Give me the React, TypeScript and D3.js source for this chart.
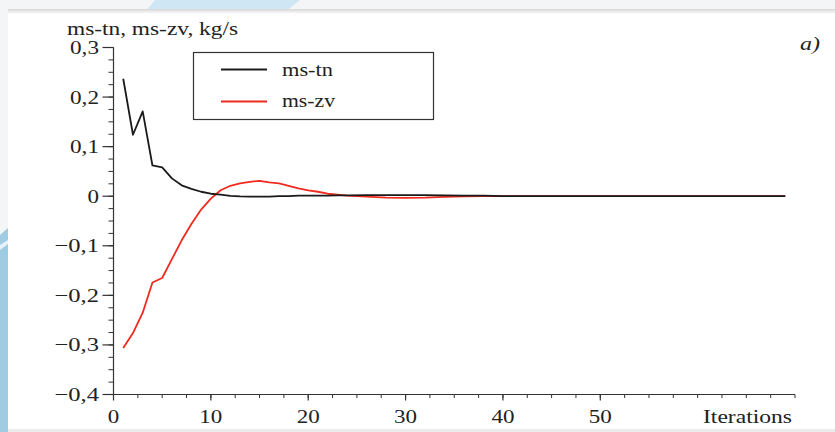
import React from "react";
import * as d3 from "d3";

const itersTn = [1,2,3,4,5,6,7,8,9,10,11,12,13,14,15,16,17,18,19,20,21,22,23,24,26,28,30,32,34,36,38,40,45,50,55,60,65,69];
const msTn = [0.237,0.124,0.171,0.062,0.058,0.036,0.022,0.015,0.009,0.005,0.003,0.0005,-0.0005,-0.001,-0.001,-0.001,0,0,0.001,0.001,0.001,0.001,0.0015,0.0015,0.002,0.002,0.002,0.002,0.0015,0.001,0.001,0,0,0,0,0,0,0];

const itersZv = [1,2,3,4,5,6,7,8,9,10,11,12,13,14,15,16,17,18,19,20,21,22,23,24,26,28,30,32,34,36,38,40,45,50,55,60,65,69];
const msZv = [-0.306,-0.276,-0.235,-0.174,-0.165,-0.127,-0.089,-0.056,-0.027,-0.005,0.012,0.021,0.026,0.029,0.031,0.028,0.026,0.021,0.016,0.012,0.009,0.005,0.003,0.001,-0.001,-0.003,-0.0035,-0.003,-0.0015,-0.0005,0,0,0,0,0,0,0,0];

const xTicks = [0, 10, 20, 30, 40, 50];
const yTicks = [0.3, 0.2, 0.1, 0, -0.1, -0.2, -0.3, -0.4];
const seriesNames = ["ms-tn", "ms-zv"];
const yTitle = "ms-tn, ms-zv, kg/s";
const xTitle = "Iterations";
const panelLabel = "a)";

const W = 835, H = 432;
const x = d3.scaleLinear().domain([0, 70]).range([113.5, 795]);
const y = d3.scaleLinear().domain([-0.4, 0.3]).range([394.5, 47.5]);

const fmt = (v: number) => {
  if (Math.abs(v) < 1e-9) return "0";
  const s = Math.abs(v).toFixed(1).replace(".", ",");
  return (v < 0 ? "\u2212" : "") + s;
};
// rendered width of a numeric label, matching the reference's wide serif glyphs
const numWidth = (s: string) =>
  Array.from(s).reduce((acc, c) => acc + (c === "," ? 6 : c === "\u2212" ? 15.5 : 11.5), 0);

const font = "'Liberation Serif', 'Times New Roman', serif";

function T(props: { x: number; y: number; size: number; w: number; anchor?: string; italic?: boolean; dy?: string; children: React.ReactNode }) {
  return (
    <text
      x={props.x}
      y={props.y}
      textLength={props.w}
      lengthAdjust="spacingAndGlyphs"
      textAnchor={props.anchor || "start"}
      dy={props.dy}
      fontFamily={font}
      fontSize={props.size}
      fontStyle={props.italic ? "italic" : "normal"}
      fill="#222"
    >
      {props.children}
    </text>
  );
}

export default function App() {
  const line = d3.line<[number, number]>().x(d => x(d[0])).y(d => y(d[1]));
  const tnPts = itersTn.map((t, i) => [t, msTn[i]] as [number, number]);
  const zvPts = itersZv.map((t, i) => [t, msZv[i]] as [number, number]);
  const xMinor = d3.range(0, 70.01, 2.5);
  const yMinor = d3.range(-0.4, 0.3001, 0.025);
  const y0 = y(-0.4);
  const x0 = x(0);
  return (
    <div style={{ position: "fixed", left: 0, top: 0 }}>
      <svg width={W} height={H} style={{ display: "block" }}>
        <defs>
          <linearGradient id="shadow" x1="0" y1="0" x2="0" y2="1">
            <stop offset="0" stopColor="#d6d6d6" />
            <stop offset="1" stopColor="#ffffff" />
          </linearGradient>
        </defs>
        <rect x={0} y={0} width={W} height={H} fill="#f4f5f6" />
        <polygon points="155,0 300,0 285,12 145,12" fill="#cfe6f5" />
        <polygon points="0,235 8,228 8,432 0,432" fill="#9fcbe3" />
        <polygon points="0,245 8,240 8,244 0,250" fill="#e6f2f9" />
        <rect x={8} y={11} width={W - 8} height={418} fill="#ffffff" />
        <rect x={8} y={9} width={W - 8} height={5} fill="url(#shadow)" />
        <rect x={8} y={429} width={W - 8} height={3} fill="#ececec" />

        {/* axes */}
        <line x1={x0} x2={x0} y1={y(0.3)} y2={y0} stroke="#333" strokeWidth={1.2} />
        <line x1={x0} x2={x(70)} y1={y0} y2={y0} stroke="#333" strokeWidth={1.2} />
        {yMinor.map((v, i) => (
          <line key={"ym" + i} x1={x0 - 5} x2={x0} y1={y(v)} y2={y(v)} stroke="#333" strokeWidth={1} />
        ))}
        {yTicks.map((v, i) => (
          <g key={"yt" + i}>
            <line x1={x0 - 11} x2={x0} y1={y(v)} y2={y(v)} stroke="#333" strokeWidth={1.2} />
            <T x={99} y={y(v)} dy="0.34em" anchor="end" size={19} w={numWidth(fmt(v))}>{fmt(v)}</T>
          </g>
        ))}
        {xMinor.map((v, i) => (
          <line key={"xm" + i} x1={x(v)} x2={x(v)} y1={y0} y2={y0 + 3.5} stroke="#333" strokeWidth={1} />
        ))}
        {xTicks.map((v, i) => (
          <g key={"xt" + i}>
            <line x1={x(v)} x2={x(v)} y1={y0} y2={y0 + 6} stroke="#333" strokeWidth={1.2} />
            <T x={x(v)} y={423} anchor="middle" size={19} w={numWidth(String(v))}>{v}</T>
          </g>
        ))}
        <T x={792} y={423} anchor="end" size={19} w={89}>{xTitle}</T>
        <T x={67} y={35} size={18} w={171}>{yTitle}</T>
        <T x={820} y={50} anchor="end" size={19} w={20} italic>{panelLabel}</T>

        {/* series */}
        <path d={line(zvPts) || ""} fill="none" stroke="#ee2b1e" strokeWidth={1.8} strokeLinejoin="round" />
        <path d={line(tnPts) || ""} fill="none" stroke="#1a1a1a" strokeWidth={1.8} strokeLinejoin="round" />

        {/* legend */}
        <rect x={193.5} y={52.5} width={240} height={67} fill="#fff" stroke="#333" strokeWidth={1.2} />
        <line x1={221} x2={267} y1={69.5} y2={69.5} stroke="#1a1a1a" strokeWidth={1.8} />
        <T x={282} y={76} size={18} w={51}>{seriesNames[0]}</T>
        <line x1={221} x2={267} y1={101.5} y2={101.5} stroke="#ee2b1e" strokeWidth={1.8} />
        <T x={282} y={107} size={18} w={53}>{seriesNames[1]}</T>
      </svg>
    </div>
  );
}
